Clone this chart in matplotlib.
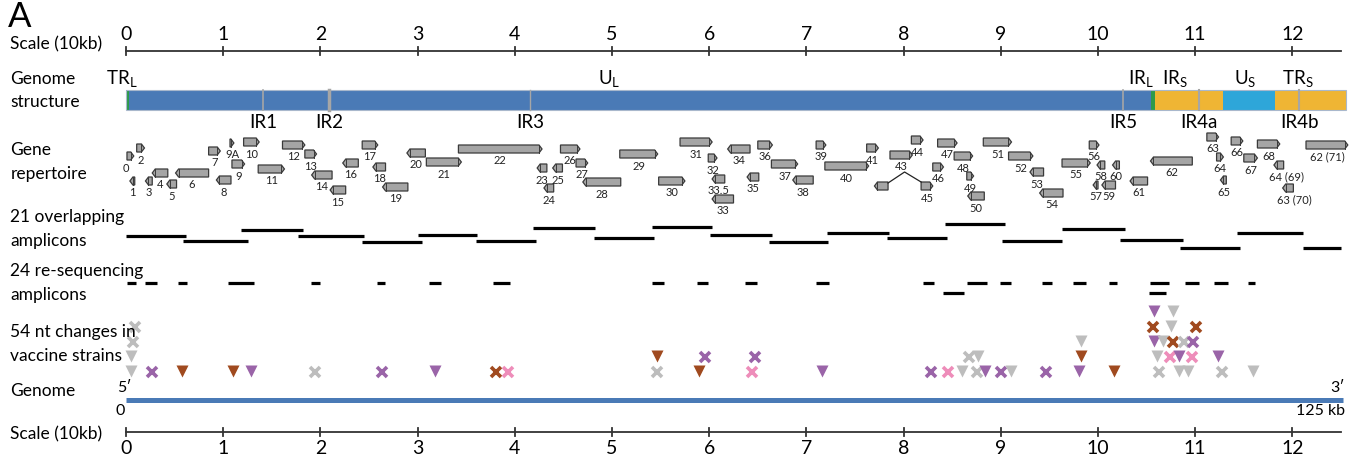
import matplotlib

matplotlib.use("Agg")

import matplotlib.pyplot as plt
from matplotlib.patches import Polygon, Rectangle

plt.rcParams["font.family"] = ["Lato", "DejaVu Sans"]
plt.rcParams["mathtext.fontset"] = "custom"
plt.rcParams["mathtext.rm"] = "Lato"

# ---- data (positions in kb) ----
scale_ticks = list(range(13))  # 10 kb units

struct_segments = [  # (start, end, colour)
    (0.0, 105.6, "#4a7ab6"),
    (0.0, 0.3, "#2e9a4a"),
    (105.5, 105.9, "#2e9a4a"),
    (105.9, 112.9, "#efb534"),
    (112.9, 118.2, "#2ea6d9"),
    (118.2, 125.5, "#efb534"),
]
struct_names = ["TR$_\\mathrm{L}$", "U$_\\mathrm{L}$", "IR$_\\mathrm{L}$", "IR$_\\mathrm{S}$", "U$_\\mathrm{S}$", "TR$_\\mathrm{S}$"]
struct_name_pos = [-0.4, 49.7, 104.4, 107.9, 115.2, 120.6]
ir_names = ["IR1", "IR2", "IR3", "IR5", "IR4a", "IR4b"]
ir_pos = [14.1, 20.9, 41.6, 102.6, 110.4, 120.7]
ir_width = [1.2, 2.5, 1.0, 1.2, 1.5, 1.5]

gene_names = ["0", "2", "1", "3", "4", "5", "6", "7", "9A", "10", "9", "8", "11", "12", "13",
              "14", "15", "16", "17", "18", "19", "20", "21", "22", "23", "25", "24", "26", "27",
              "28", "29", "30", "31", "32", "33.5", "33", "34", "36", "35", "37", "38", "39",
              "40", "41", "43", "", "45", "44", "46", "47", "48", "49", "50", "51", "52", "53",
              "54", "55", "56", "58", "60", "57", "59", "61", "62", "63", "64", "65", "66", "67",
              "68", "64 (69)", "63 (70)", "62 (71)"]
gene_start = [0.1, 1.1, 0.4, 2.0, 2.7, 4.2, 5.1, 8.5, 10.7, 12.1, 10.9, 9.3, 13.6, 16.1, 18.4,
              19.1, 21.0, 22.3, 24.3, 25.4, 26.4, 28.9, 30.9, 34.2, 42.3, 43.9, 43.0, 44.7, 46.3,
              47.0, 50.8, 54.8, 57.0, 59.9, 60.3, 60.3, 61.9, 65.0, 63.9, 66.4, 68.6, 71.0,
              71.9, 76.2, 78.6, 77.0, 81.8, 80.8, 83.0, 83.5, 85.2, 86.5, 86.6, 88.2, 90.8, 93.0,
              94.0, 96.3, 99.1, 99.9, 101.5, 99.5, 100.4, 103.3, 105.4, 111.2, 112.2, 112.6, 113.7, 115.0,
              116.4, 118.1, 119.0, 121.4]
gene_end = [0.8, 1.9, 0.9, 2.7, 4.3, 5.2, 8.5, 9.7, 11.1, 13.7, 12.2, 10.8, 16.3, 18.4, 19.6,
            21.2, 22.6, 23.9, 25.9, 26.7, 29.0, 30.8, 34.5, 42.8, 43.3, 44.9, 44.0, 46.7, 47.5,
            50.9, 54.7, 57.5, 60.3, 60.8, 61.6, 62.5, 64.2, 66.5, 65.1, 69.1, 70.7, 72.0,
            76.4, 77.4, 80.9, 78.4, 83.0, 82.0, 84.1, 85.5, 87.1, 87.2, 88.3, 91.1, 93.3, 94.4,
            96.4, 99.2, 100.1, 100.7, 102.2, 100.0, 101.8, 105.1, 109.7, 112.4, 112.9, 113.2, 114.9, 116.4,
            118.7, 119.1, 120.1, 125.7]
gene_strand = ["+", "+", "-", "-", "-", "-", "-", "+", "+", "+", "+", "-", "+", "+", "+",
               "-", "-", "-", "+", "-", "-", "-", "+", "+", "-", "-", "-", "+", "+",
               "-", "+", "+", "+", "+", "-", "-", "-", "+", "-", "+", "-", "+",
               "+", "+", "+", "-", "+", "+", "+", "+", "+", "+", "-", "+", "+", "-",
               "-", "+", "+", "-", "-", "-", "-", "-", "-", "+", "+", "-", "+", "+",
               "+", "-", "-", "+"]
# layout: vertical row of each gene box (pixel row)
gene_row = [156, 148, 181, 181, 173, 184, 173, 151, 143, 142, 164, 180, 169, 145, 154,
            175, 190, 163, 145, 167, 187, 153, 162, 149, 168, 168, 188, 149, 163,
            182, 154, 181, 142, 158, 179, 199, 149, 145, 177, 164, 180, 145,
            166, 148, 155, 186, 186, 140, 167, 143, 156, 176, 196, 142, 156, 172,
            193, 163, 145, 165, 165, 185, 185, 181, 161, 137, 157, 180, 141, 158,
            144, 165, 188, 145]
label_shift = {"0": -4, "64 (69)": 8, "63 (70)": 6}
splice_pos = [78.4, 80.1, 81.8]

amp21_start = [0.0, 5.9, 11.8, 17.7, 24.3, 30.0, 36.0, 41.9, 48.1, 54.1, 60.1, 66.2, 72.1,
               78.3, 84.3, 90.1, 96.3, 102.3, 108.4, 114.3, 121.1]
amp21_end = [6.2, 12.5, 18.2, 24.5, 30.5, 36.1, 42.2, 48.3, 54.3, 60.3, 66.5, 72.2, 78.5,
             84.5, 90.4, 96.3, 102.8, 108.7, 114.6, 121.1, 125.0]
amp21_row = [236, 241, 230, 236, 242, 235, 241, 228, 238, 227, 235, 242, 233, 238, 224,
             241, 229, 240, 248, 233, 248]

amp24_start = [0.1, 2.0, 5.3, 10.5, 19.0, 25.8, 31.2, 37.8, 54.1, 58.7, 63.7, 71.0, 82.0,
               86.5, 89.9, 94.2, 97.4, 101.1, 105.4, 108.9, 111.9, 115.4, 84.1, 105.2]
amp24_end = [1.0, 3.2, 6.3, 13.2, 20.0, 26.6, 32.4, 39.5, 55.3, 59.9, 64.9, 72.3, 83.1,
             88.6, 91.1, 95.3, 98.8, 102.0, 107.3, 110.4, 113.4, 116.2, 86.2, 107.0]
amp24_row = [283] * 22 + [293, 293]

nt_pos = [0.9, 0.7, 0.5, 0.5, 2.7, 5.8, 11.0, 12.9, 19.4, 26.3, 31.8, 38.1, 39.3, 54.6,
          54.6, 59.6, 58.9, 64.7, 64.4, 71.6, 82.8, 84.6, 86.0, 86.7, 87.7, 87.6, 88.4, 90.0,
          91.0, 94.6, 98.2, 98.2, 98.0, 101.6, 105.8, 107.7, 105.7, 107.5, 110.1, 105.8, 106.7,
          107.7, 108.8, 109.8, 106.1, 107.4, 108.3, 109.7, 112.3, 106.3, 108.3, 109.3, 112.8, 115.9]
nt_level = [3, 2, 1, 0, 0, 0, 0, 0, 0, 0, 0, 0, 0, 1,
            0, 1, 0, 1, 0, 0, 0, 0, 0, 1, 1, 0, 0, 0,
            0, 0, 2, 1, 0, 0, 4, 4, 3, 3, 3, 2, 2,
            2, 2, 2, 1, 1, 1, 1, 1, 0, 0, 0, 0, 0]
nt_color = ["gray", "gray", "gray", "gray", "purple", "brown", "brown", "purple", "gray", "purple",
            "purple", "brown", "pink", "brown", "gray", "purple", "brown", "purple", "pink", "purple",
            "purple", "pink", "gray", "gray", "gray", "gray", "purple", "purple", "gray", "purple",
            "gray", "brown", "purple", "brown", "purple", "gray", "brown", "gray", "brown", "purple",
            "gray", "brown", "gray", "purple", "gray", "pink", "purple", "pink", "purple", "gray",
            "gray", "gray", "gray", "gray"]
nt_marker = ["x", "x", "v", "v", "x", "v", "v", "v", "x", "x", "v", "x", "x", "v",
             "x", "x", "v", "x", "x", "v", "x", "x", "v", "x", "v", "x", "v", "x",
             "v", "x", "v", "v", "v", "v", "v", "v", "x", "v", "x", "v", "v",
             "x", "x", "x", "v", "x", "v", "x", "v", "x", "v", "v", "x", "v"]
palette = {"gray": "#bdbdbd", "purple": "#9a64a8", "brown": "#a04a1f", "pink": "#ee8dba"}

# ---- layout ----
KB_PER_PX = 125 / 1215
X0 = 126
fig = plt.figure(figsize=(13.62, 4.57), dpi=100)
ax = fig.add_axes([0, 0, 1, 1])
ax.set_xlim(-X0 * KB_PER_PX, (1362 - X0) * KB_PER_PX)
ax.set_ylim(457, 0)
ax.axis("off")
dx = KB_PER_PX  # one pixel in kb

ax.text(-12.2, 17, "A", fontsize=25, ha="left", va="center")
row_text = [(44, "Scale (10kb)"), (79, "Genome"), (102, "structure"), (150, "Gene"),
            (174, "repertoire"), (217, "21 overlapping"), (241, "amplicons"),
            (271, "24 re-sequencing"), (295, "amplicons"), (332, "54 nt changes in"),
            (356, "vaccine strains"), (391, "Genome"), (434, "Scale (10kb)")]
for y, s in row_text:
    ax.text(-11.9, y, s, fontsize=12.5, ha="left", va="center")


def draw_scale(y, label_y):
    ax.plot([0, 125], [y, y], color="#333333", lw=1.3)
    for t in scale_ticks:
        ax.plot([t * 10, t * 10], [y - 4, y + 4], color="#333333", lw=1.3)
        ax.text(t * 10, label_y, str(t), fontsize=14, ha="center", va="center")


draw_scale(51, 34)
draw_scale(432, 448)

# genome structure
for s, e, c in struct_segments:
    ax.add_patch(Rectangle((s, 90), e - s, 20, facecolor=c, edgecolor="none"))
ax.add_patch(Rectangle((0, 90), 125.5, 20, facecolor="none", edgecolor="#a9b8cc", lw=0.8))
for p, w in zip(ir_pos, ir_width):
    ax.plot([p, p], [90, 110], color="#a6a6a6", lw=w)
for name, p in zip(ir_names, ir_pos):
    ax.text(p, 123, name, fontsize=13.5, ha="center", va="center")
for name, p in zip(struct_names, struct_name_pos):
    ax.text(p, 79, name, fontsize=13.5, ha="center", va="center")

# genes
box_h = 8
tip = 3 * dx
for name, s, e, st, y in zip(gene_names, gene_start, gene_end, gene_strand, gene_row):
    top, bot = y - box_h / 2, y + box_h / 2
    if st == "+":
        pts = [(s, top), (e - tip, top), (e, y), (e - tip, bot), (s, bot)]
        edge = e - tip
    else:
        pts = [(e, top), (s + tip, top), (s, y), (s + tip, bot), (e, bot)]
        edge = s + tip
    ax.add_patch(Polygon(pts, closed=True, facecolor="#a5a5a5", edgecolor="#3a3a3a", lw=0.9))
    ax.plot([edge, edge], [top, bot], color="#3a3a3a", lw=0.7)
    if name:
        lx = (s + e) / 2 + label_shift.get(name, 0) * dx
        ax.text(lx, y + 12, name, fontsize=8, ha="center", va="center", color="#222222")
ax.plot(splice_pos, [183, 172, 182], color="#222222", lw=0.9)

# amplicons
for s, e, y in zip(amp21_start, amp21_end, amp21_row):
    ax.plot([s, e], [y, y], color="black", lw=2.3, solid_capstyle="butt")
for s, e, y in zip(amp24_start, amp24_end, amp24_row):
    ax.plot([s, e], [y, y], color="black", lw=2.3, solid_capstyle="butt")

# nucleotide changes
for p, lv, c, m in zip(nt_pos, nt_level, nt_color, nt_marker):
    y = 372 - 15 * lv
    if m == "v":
        ax.plot(p, y - 1, marker="v", ms=9, color=palette[c], mec="none", ls="none")
    else:
        ax.plot(p, y, marker="x", ms=7, mew=2.6, color=palette[c], ls="none")

# genome line
ax.plot([0, 125.2], [399.5, 399.5], color="#4a7ab6", lw=3.6, solid_capstyle="butt")
ax.text(-0.2, 388, "5\u2032", fontsize=11.5, ha="center", va="center")
ax.text(-0.6, 411, "0", fontsize=11.5, ha="center", va="center")
ax.text(125.4, 388, "3\u2032", fontsize=11.5, ha="right", va="center")
ax.text(125.4, 411, "125 kb", fontsize=11.5, ha="right", va="center")

fig.savefig("out.png", dpi=100)
